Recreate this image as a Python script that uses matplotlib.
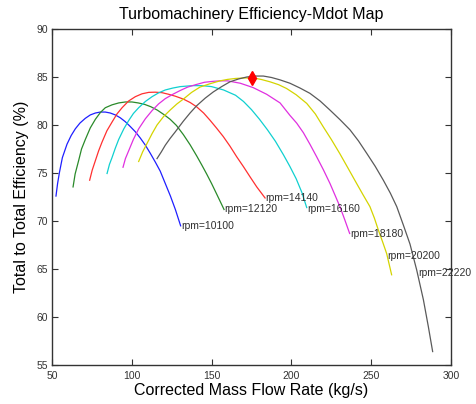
import matplotlib
matplotlib.use("Agg")
import matplotlib.pyplot as plt

plt.rcParams['font.family'] = ['Liberation Sans', 'DejaVu Sans']

# ---- data ----
speed_labels = ['rpm=10100', 'rpm=12120', 'rpm=14140', 'rpm=16160',
                'rpm=18180', 'rpm=20200', 'rpm=22220']

x_10100 = [52.5, 53.5, 54.6, 56.5, 59.4, 62.0, 64.6, 67.5, 70.9, 74.0, 77.2, 80.3, 83.4, 86.5, 89.7,
           92.8, 95.9, 99.0, 102.2, 105.3, 108.5, 111.6, 114.7, 117.8, 121.0, 124.2, 127.3, 130.6]
y_10100 = [72.6, 73.9, 75.0, 76.6, 78.0, 78.9, 79.6, 80.2, 80.7, 81.05, 81.25, 81.35, 81.35, 81.25, 81.05,
           80.75, 80.35, 79.85, 79.3, 78.65, 77.9, 77.05, 76.15, 75.2, 73.9, 72.6, 71.2, 69.5]

x_12120 = [63.2, 64.5, 66.7, 68.5, 70.9, 74.0, 77.2, 80.3, 83.4, 87.6, 91.8, 96.0, 100.1, 104.0, 108.0,
           112.0, 116.0, 120.0, 124.0, 128.0, 132.3, 136.5, 140.6, 143.8, 146.9, 150.0, 153.2, 155.5, 157.8]
y_12120 = [73.55, 74.9, 76.3, 77.5, 78.5, 79.7, 80.6, 81.3, 81.8, 82.1, 82.3, 82.4, 82.4, 82.3, 82.15,
           81.9, 81.55, 81.1, 80.6, 79.95, 79.0, 77.95, 76.8, 75.85, 74.9, 73.9, 72.8, 72.0, 71.2]

x_14140 = [73.6, 75.2, 77.2, 79.2, 81.3, 84.4, 87.6, 90.7, 93.9, 98.0, 102.2, 106.4, 110.6, 114.7, 118.9,
           123.1, 127.3, 132.3, 136.5, 140.6, 145.0, 149.0, 153.0, 157.3, 161.5, 165.7, 170.0, 174.1, 178.3, 183.5]
y_14140 = [74.25, 75.3, 76.3, 77.3, 78.2, 79.4, 80.3, 81.15, 81.8, 82.5, 82.95, 83.25, 83.4, 83.42, 83.37,
           83.2, 83.0, 82.7, 82.35, 81.9, 81.25, 80.5, 79.7, 78.8, 77.8, 76.7, 75.65, 74.6, 73.55, 72.4]

x_16160 = [84.5, 86.0, 87.6, 89.7, 91.8, 95.0, 98.0, 101.0, 104.3, 108.5, 112.7, 116.8, 121.0, 125.7, 130.4,
           138.0, 144.0, 150.0, 157.5, 165.0, 170.0, 175.0, 180.0, 185.0, 190.0, 195.0, 199.0, 203.0, 206.5, 209.6]
y_16160 = [74.95, 75.9, 76.6, 77.6, 78.5, 79.6, 80.45, 81.2, 81.8, 82.45, 82.95, 83.35, 83.65, 83.85, 84.0,
           84.1, 84.1, 84.0, 83.65, 83.1, 82.45, 81.6, 80.6, 79.5, 78.3, 76.9, 75.7, 74.4, 73.0, 71.4]

x_18180 = [94.5, 96.0, 98.0, 101.0, 104.3, 108.5, 112.7, 116.8, 121.0, 125.7, 130.4, 135.0, 140.0, 145.5,
           151.0, 155.5, 160.0, 168.0, 176.0, 184.5, 192.9, 199.1, 203.3, 207.5, 211.6, 215.8, 220.0, 224.2,
           227.3, 230.4, 233.5, 236.5]
y_18180 = [75.6, 76.5, 77.3, 78.5, 79.6, 80.65, 81.5, 82.2, 82.75, 83.2, 83.6, 83.95, 84.2, 84.45,
           84.55, 84.6, 84.6, 84.35, 83.9, 83.2, 82.3, 81.0, 80.2, 79.2, 78.0, 76.7, 75.35, 73.9,
           72.7, 71.5, 70.1, 68.7]

x_20200 = [104.3, 106.8, 109.6, 112.7, 115.8, 120.0, 124.3, 128.3, 132.3, 137.5, 142.7, 149.0, 155.3, 160.0,
           165.0, 170.5, 176.0, 181.0, 186.6, 192.0, 197.0, 203.0, 209.6, 215.0, 220.0, 225.0, 230.4, 235.5,
           240.9, 245.0, 249.2, 252.0, 254.5, 257.0, 259.7, 262.8]
y_20200 = [76.2, 77.2, 78.1, 79.1, 80.0, 80.9, 81.6, 82.2, 82.7, 83.4, 83.95, 84.3, 84.6, 84.75,
           84.85, 84.9, 84.9, 84.75, 84.5, 84.2, 83.8, 83.15, 82.25, 81.15, 79.8, 78.5, 77.0, 75.5,
           73.9, 72.7, 71.5, 70.3, 69.05, 67.9, 66.6, 64.4]

x_22220 = [115.8, 118.5, 121.0, 124.0, 127.3, 132.3, 136.5, 140.6, 146.0, 151.1, 156.3, 161.5, 167.0, 172.0,
           177.0, 182.4, 187.5, 192.9, 199.1, 205.4, 211.6, 218.0, 224.2, 230.5, 236.7, 242.0, 247.2, 252.5,
           257.6, 262.0, 266.0, 270.1, 274.3, 278.5, 282.7, 285.8, 288.5]
y_22220 = [76.5, 77.2, 77.9, 78.6, 79.3, 80.4, 81.25, 82.0, 82.8, 83.45, 84.0, 84.5, 84.8, 85.0,
           85.1, 85.1, 84.95, 84.7, 84.35, 83.85, 83.3, 82.5, 81.55, 80.55, 79.5, 78.35, 77.05, 75.7,
           74.25, 72.9, 71.5, 69.6, 67.6, 64.9, 61.8, 59.0, 56.4]

curves_x = [x_10100, x_12120, x_14140, x_16160, x_18180, x_20200, x_22220]
curves_y = [y_10100, y_12120, y_14140, y_16160, y_18180, y_20200, y_22220]

# where each speed label sits
label_x = [130.8, 157.8, 183.5, 209.8, 236.7, 260.1, 279.3]
label_y = [69.5, 71.2, 72.4, 71.2, 68.6, 66.4, 64.6]

# design (peak) point
design_x = [175.5]
design_y = [84.85]

x_ticks = [50, 100, 150, 200, 250, 300]
y_ticks = [55, 60, 65, 70, 75, 80, 85, 90]

colors = ['#1f1fff', '#2a8a2a', '#ff3030', '#10d0d0', '#e030e0', '#d4d400', '#5a5a5a']

fig = plt.figure(figsize=(4.77, 4.04), dpi=100)
ax = fig.add_axes([0.109, 0.0965, 0.8365, 0.8317])

for xs, ys, c in zip(curves_x, curves_y, colors):
    ax.plot(xs, ys, color=c, lw=0.9)

for lx, ly, t in zip(label_x, label_y, speed_labels):
    ax.text(lx, ly, t, ha='left', va='center', fontsize=7.5, color='#303030')

ax.plot(design_x, design_y, marker='d', color='red', markersize=7, linestyle='none')

ax.set_xlim(50, 300)
ax.set_ylim(55, 90)
ax.set_xticks(x_ticks)
ax.set_yticks(y_ticks)
ax.tick_params(direction='in', top=True, right=True, length=4, width=0.8,
               labelsize=7.5, labelcolor='#333333', color='#333333')
ax.tick_params(axis='x', pad=4)
ax.tick_params(axis='y', pad=3)
for s in ax.spines.values():
    s.set_color('#333333')
    s.set_linewidth(1.0)

ax.set_title('Turbomachinery Efficiency-Mdot Map', fontsize=11.5, pad=7)
ax.set_xlabel('Corrected Mass Flow Rate (kg/s)', fontsize=11.5, labelpad=2)
ax.set_ylabel('Total to Total Efficiency (%)', fontsize=11.5, labelpad=5)

fig.savefig('out.png', dpi=100)
